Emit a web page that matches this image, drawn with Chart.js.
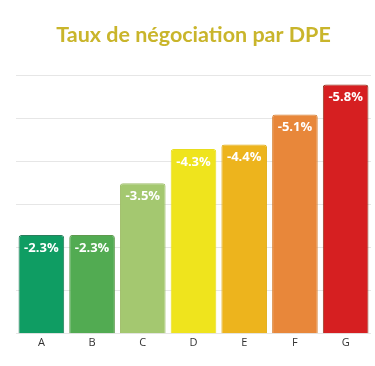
<!doctype html>
<html>
	<head>
		<meta charset="utf-8">
		<title>Taux de négociation par DPE</title>
		<script src="https://cdn.jsdelivr.net/npm/chart.js@4/dist/chart.umd.min.js"></script>
		<style>
			body { margin: 0; background: #fff; }
			#wrap { width: 375px; height: 366px; }
		</style>
	</head>
	<body>
		<div id="wrap">
			<canvas id="canvas" width="375" height="366"></canvas>
		</div>

	<script>
	var labels = ["A", "B", "C", "D", "E", "F", "G"];
	var taux = [2.3, 2.3, 3.5, 4.3, 4.4, 5.1, 5.8];
	var valueLabels = ["-2.3%", "-2.3%", "-3.5%", "-4.3%", "-4.4%", "-5.1%", "-5.8%"];
	var barColors = ["#0f9d63", "#52ab52", "#a4c870", "#efe41d", "#edb41d", "#e8873a", "#d61f21"];
	var borderColors = ["#2a7e5c", "#5e9a4e", "#a0bf6c", "#e8dd1e", "#e0b01d", "#d8853a", "#8e3a22"];

	// write each value inside the top of its bar
	var barValues = {
		id: "barValues",
		afterDatasetsDraw: function(chart){
			var ctx = chart.ctx;
			var meta = chart.getDatasetMeta(0);
			ctx.save();
			ctx.font = "bold 13px 'Open Sans'";
			ctx.fillStyle = "#ffffff";
			ctx.textAlign = "center";
			ctx.textBaseline = "middle";
			meta.data.forEach(function(bar, i){
				ctx.fillText(valueLabels[i], bar.x, bar.y + 13);
			});
			ctx.restore();
		}
	};

	window.onload = function(){
		var ctx = document.getElementById("canvas").getContext("2d");
		window.myBar = new Chart(ctx, {
			type: "bar",
			data: {
				labels: labels,
				datasets: [{
					data: taux,
					backgroundColor: barColors,
					borderColor: borderColors,
					borderWidth: 1,
					borderRadius: 3,
					borderSkipped: "bottom",
					barPercentage: 0.9,
					categoryPercentage: 1
				}]
			},
			options: {
				responsive: false,
				animation: false,
				layout: { padding: { left: 16, right: 4, top: 0, bottom: 15 } },
				plugins: {
					legend: { display: false },
					tooltip: { enabled: false },
					title: {
						display: true,
						text: "Taux de négociation par DPE",
						color: "#c9b52b",
						font: { family: "Lato", size: 21.5, weight: "bold" },
						padding: { top: 22, bottom: 28 }
					}
				},
				scales: {
					x: {
						grid: { display: false, drawTicks: false },
						border: { display: false },
						ticks: { color: "#333333", font: { family: "Open Sans", size: 11 }, padding: 2 }
					},
					y: {
						min: 0,
						max: 6,
						ticks: { display: false, stepSize: 1 },
						grid: { color: "#e6e6e6", drawTicks: false },
						border: { display: false }
					}
				}
			},
			plugins: [barValues]
		});
	};
	</script>
	</body>
</html>
